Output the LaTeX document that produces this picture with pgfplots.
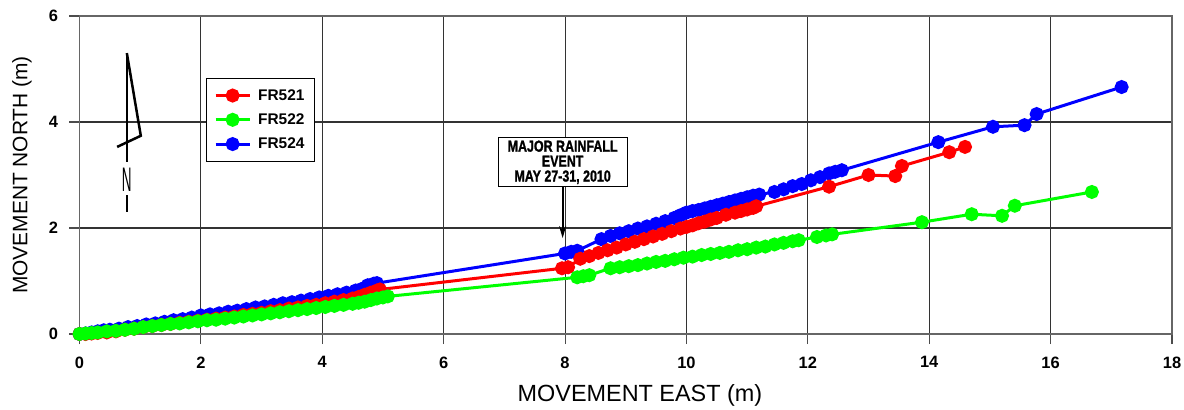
\documentclass[border=0pt]{standalone}
\usepackage{fontspec}
\setmainfont{Liberation Sans}
\newfontfamily\heavyfont[FakeBold=1.5]{Liberation Sans Bold}
\usepackage{graphicx}
\usepackage{pgfplots}
\pgfplotsset{compat=1.18}
\usetikzlibrary{arrows.meta,calc}

\pgfplotstableread{
x y
0 0
0.1 0.01
0.2 0.03
0.3 0.05
0.4 0.07
0.5 0.08
0.65 0.1
0.8 0.13
0.95 0.15
1.1 0.18
1.25 0.2
1.4 0.23
1.55 0.26
1.7 0.28
1.85 0.31
2.0 0.35
2.15 0.37
2.3 0.39
2.45 0.42
2.6 0.44
2.75 0.47
2.9 0.5
3.05 0.52
3.2 0.55
3.35 0.58
3.5 0.6
3.65 0.63
3.8 0.66
3.95 0.69
4.1 0.72
4.25 0.75
4.4 0.78
4.55 0.82
4.65 0.85
4.75 0.92
4.85 0.95
4.9 0.96
8.0 1.52
8.1 1.55
8.2 1.57
8.6 1.79
8.75 1.85
8.9 1.9
9.05 1.94
9.2 1.99
9.35 2.03
9.5 2.08
9.65 2.13
9.8 2.19
9.9 2.24
10.0 2.29
10.1 2.32
10.2 2.34
10.3 2.37
10.4 2.4
10.5 2.43
10.6 2.46
10.7 2.49
10.8 2.52
10.9 2.55
11.0 2.58
11.1 2.61
11.2 2.63
11.45 2.68
11.6 2.73
11.75 2.79
11.9 2.83
12.05 2.9
12.2 2.96
12.35 3.03
12.45 3.06
12.56 3.09
14.15 3.62
15.05 3.91
15.57 3.94
15.77 4.15
17.17 4.66
}\fra

\pgfplotstableread{
x y
0 0
0.1 0.0
0.2 0.01
0.3 0.02
0.45 0.03
0.6 0.05
0.75 0.08
0.9 0.1
1.05 0.13
1.2 0.15
1.35 0.17
1.5 0.19
1.65 0.21
1.8 0.23
1.95 0.25
2.1 0.27
2.25 0.29
2.4 0.31
2.55 0.33
2.7 0.36
2.85 0.38
3.0 0.4
3.15 0.43
3.3 0.45
3.45 0.48
3.6 0.5
3.75 0.53
3.9 0.55
4.05 0.58
4.2 0.61
4.35 0.64
4.5 0.67
4.6 0.7
4.7 0.74
4.8 0.78
4.9 0.82
4.95 0.84
7.95 1.24
8.05 1.26
8.25 1.42
8.4 1.47
8.55 1.53
8.7 1.58
8.85 1.63
9.0 1.69
9.15 1.74
9.3 1.79
9.45 1.84
9.6 1.89
9.75 1.94
9.9 1.99
10.0 2.02
10.1 2.05
10.2 2.09
10.3 2.12
10.4 2.16
10.5 2.19
10.65 2.25
10.8 2.29
10.9 2.32
11.0 2.35
11.1 2.38
11.15 2.41
12.35 2.78
13.0 3.0
13.44 2.98
13.55 3.17
14.33 3.43
14.59 3.53
}\frb

\pgfplotstableread{
x y
0 0
0.1 0.01
0.2 0.02
0.3 0.03
0.45 0.05
0.6 0.06
0.75 0.08
0.9 0.1
1.05 0.13
1.2 0.15
1.35 0.17
1.5 0.19
1.65 0.2
1.8 0.22
1.95 0.24
2.1 0.26
2.25 0.27
2.4 0.29
2.55 0.31
2.7 0.33
2.85 0.35
3.0 0.37
3.15 0.39
3.3 0.41
3.45 0.43
3.6 0.45
3.75 0.47
3.9 0.49
4.05 0.51
4.2 0.53
4.35 0.55
4.5 0.57
4.6 0.59
4.7 0.61
4.8 0.64
4.9 0.67
5.0 0.69
5.08 0.71
8.2 1.07
8.3 1.09
8.4 1.11
8.75 1.24
8.9 1.26
9.05 1.28
9.2 1.3
9.35 1.33
9.5 1.36
9.65 1.38
9.8 1.41
9.95 1.44
10.1 1.46
10.25 1.49
10.4 1.51
10.55 1.53
10.7 1.55
10.85 1.58
11.0 1.6
11.15 1.63
11.3 1.65
11.45 1.69
11.6 1.72
11.75 1.75
11.85 1.77
12.15 1.83
12.3 1.86
12.4 1.88
13.88 2.11
14.7 2.26
15.2 2.23
15.41 2.42
16.68 2.68
}\frc

\begin{document}
\begin{tikzpicture}
\begin{axis}[name=ax,
  scale only axis, width=1092.5bp, height=318bp,
  xmin=0, xmax=18, ymin=0, ymax=6,
  xtick={0,2,...,18}, ytick={0,2,4,6},
  xticklabels={0,2,4,6,8,10,12,14,16,18}, yticklabels={0,2,4,6},
  grid=major, major grid style={black!80, line width=1.1bp},
  axis line style={black!60, line width=1.5bp},
  tick align=outside, major tick length=10bp,
  xtick pos=bottom, ytick pos=left,
  tick style={black!70, line width=1.1bp},
  tick label style={font=\bfseries\fontsize{16.5}{16.5}\selectfont},
  xticklabel style={yshift=-9bp},
  yticklabel style={xshift=-8bp},
  xlabel={MOVEMENT EAST (m)}, ylabel={MOVEMENT NORTH (m)},
  xlabel style={font=\fontsize{23.5}{23.5}\selectfont, at={(axis description cs:0.513,-0.192)}, anchor=center},
  ylabel style={font=\fontsize{21}{21}\selectfont, at={(axis description cs:-0.0526,0.5)}, anchor=center},
  legend image code/.code={\draw[mark repeat=2,mark phase=2] plot coordinates {(0bp,0bp)(17bp,0bp)(34bp,0bp)};},
  legend style={at={(axis cs:2.08,4.83)}, anchor=north west, draw=black, line width=0.8bp,
    font=\bfseries\fontsize{15.5}{15.5}\selectfont, row sep=8bp, column sep=5bp,
    inner xsep=8bp, inner ysep=9bp, cells={anchor=west}},
  every axis plot/.append style={line width=3bp, mark=*, mark size=5.5bp, mark options={solid}},
]
\addplot[blue, forget plot] table {\fra};
\addplot[red, forget plot] table {\frb};
\addplot[green, forget plot] table {\frc};
\addlegendimage{red, line width=3bp, mark=*, mark size=5.5bp}
\addlegendentry{FR521}
\addlegendimage{green, line width=3bp, mark=*, mark size=5.5bp}
\addlegendentry{FR522}
\addlegendimage{blue, line width=3bp, mark=*, mark size=5.5bp}
\addlegendentry{FR524}

% north arrow
\draw[line width=2.5bp] (axis cs:0.78,5.30) -- (axis cs:0.78,3.25);
\draw[line width=2.5bp, line join=miter] (axis cs:0.78,5.30) -- (axis cs:1.01,3.74) -- (axis cs:0.62,3.53);
\node[font=\fontsize{18}{18}\selectfont, xscale=0.75, yscale=1.9, inner sep=0pt] at (axis cs:0.78,2.91) {N};
\draw[line width=2.5bp] (axis cs:0.78,2.62) -- (axis cs:0.78,2.30);

% annotation
\node[draw=black, line width=1bp, fill=white, align=center, minimum width=129bp, minimum height=49bp,
  inner sep=2bp, font=\heavyfont\fontsize{16}{15}\selectfont] at (axis cs:7.96,3.24)
  {\scalebox{0.78}[1]{MAJOR RAINFALL}\\\scalebox{0.78}[1]{EVENT}\\\scalebox{0.78}[1]{MAY 27-31, 2010}};
\draw[line width=2bp, -{Stealth[length=12bp,width=7bp]}] (axis cs:7.96,2.78) -- (axis cs:7.96,1.81);
\end{axis}
\pgfresetboundingbox
\path[use as bounding box] ($(ax.south west)+(-79.5bp,-75bp)$) rectangle ($(ax.north east)+(12bp,16bp)$);
\end{tikzpicture}
\end{document}
